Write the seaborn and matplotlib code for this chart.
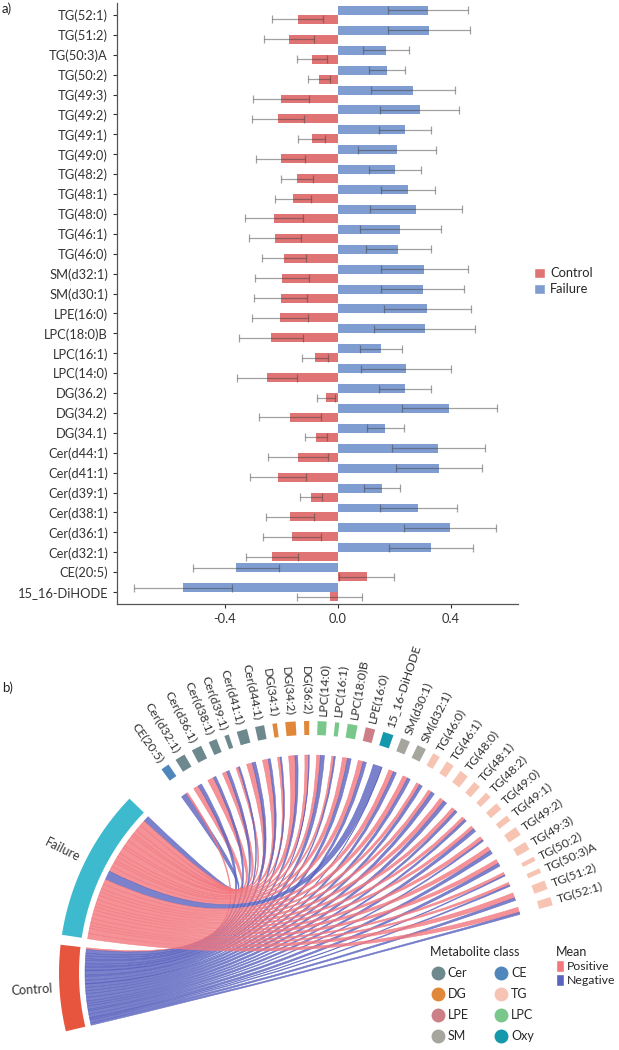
import numpy as np
import pandas as pd
import matplotlib
matplotlib.use("Agg")
import matplotlib.pyplot as plt
import seaborn as sns
from matplotlib.path import Path
from matplotlib.patches import PathPatch, Polygon, Patch
from matplotlib.lines import Line2D

# ---- data (panel a, top to bottom) ----
metabolites = ['TG(52:1)', 'TG(51:2)', 'TG(50:3)A', 'TG(50:2)', 'TG(49:3)', 'TG(49:2)',
               'TG(49:1)', 'TG(49:0)', 'TG(48:2)', 'TG(48:1)', 'TG(48:0)', 'TG(46:1)',
               'TG(46:0)', 'SM(d32:1)', 'SM(d30:1)', 'LPE(16:0)', 'LPC(18:0)B', 'LPC(16:1)',
               'LPC(14:0)', 'DG(36.2)', 'DG(34.2)', 'DG(34.1)', 'Cer(d44:1)', 'Cer(d41:1)',
               'Cer(d39:1)', 'Cer(d38:1)', 'Cer(d36:1)', 'Cer(d32:1)', 'CE(20:5)', '15_16-DiHODE']
failure_mean = [0.321, 0.323, 0.170, 0.176, 0.266, 0.290, 0.238, 0.210, 0.203, 0.248,
                0.277, 0.222, 0.215, 0.307, 0.301, 0.318, 0.308, 0.153, 0.243, 0.238,
                0.396, 0.169, 0.357, 0.360, 0.156, 0.286, 0.399, 0.332, -0.360, -0.548]
failure_err = [0.142, 0.145, 0.082, 0.064, 0.148, 0.139, 0.093, 0.137, 0.092, 0.096,
               0.163, 0.144, 0.116, 0.153, 0.148, 0.155, 0.178, 0.075, 0.159, 0.092,
               0.169, 0.067, 0.164, 0.152, 0.063, 0.135, 0.163, 0.149, 0.153, 0.173]
control_mean = [-0.142, -0.173, -0.091, -0.067, -0.201, -0.213, -0.093, -0.203, -0.144, -0.159,
                -0.227, -0.222, -0.191, -0.197, -0.203, -0.206, -0.236, -0.081, -0.252, -0.042,
                -0.170, -0.078, -0.141, -0.213, -0.095, -0.169, -0.163, -0.234, 0.102, -0.029]
control_err = [0.091, 0.088, 0.052, 0.038, 0.099, 0.092, 0.049, 0.086, 0.057, 0.064,
               0.103, 0.092, 0.078, 0.096, 0.093, 0.100, 0.113, 0.047, 0.107, 0.033,
               0.109, 0.039, 0.106, 0.100, 0.039, 0.084, 0.102, 0.092, 0.098, 0.114]

# ---- panel b: order around the circle (clockwise) and classes ----
ring_labels = ['CE(20:5)', 'Cer(d32:1)', 'Cer(d36:1)', 'Cer(d38:1)', 'Cer(d39:1)', 'Cer(d41:1)',
               'Cer(d44:1)', 'DG(34:1)', 'DG(34:2)', 'DG(36:2)', 'LPC(14:0)', 'LPC(16:1)',
               'LPC(18:0)B', 'LPE(16:0)', '15_16-DiHODE', 'SM(d30:1)', 'SM(d32:1)', 'TG(46:0)',
               'TG(46:1)', 'TG(48:0)', 'TG(48:1)', 'TG(48:2)', 'TG(49:0)', 'TG(49:1)', 'TG(49:2)',
               'TG(49:3)', 'TG(50:2)', 'TG(50:3)A', 'TG(51:2)', 'TG(52:1)']
ring_class = ['CE', 'Cer', 'Cer', 'Cer', 'Cer', 'Cer', 'Cer', 'DG', 'DG', 'DG', 'LPC', 'LPC',
              'LPC', 'LPE', 'Oxy', 'SM', 'SM', 'TG', 'TG', 'TG', 'TG', 'TG', 'TG', 'TG', 'TG',
              'TG', 'TG', 'TG', 'TG', 'TG']
class_order = ['Cer', 'DG', 'LPE', 'SM', 'CE', 'TG', 'LPC', 'Oxy']
class_colors = {'Cer': '#6E898D', 'CE': '#4F86BC', 'DG': '#E0873A', 'TG': '#F7C4B4',
                'LPE': '#CD7F87', 'LPC': '#79C78A', 'SM': '#A6A69F', 'Oxy': '#1598AC'}

red_bar, blue_bar = '#E07474', '#7F9DD1'
pos_col, neg_col = '#F2777E', '#5A63BF'
fail_col, ctrl_col = '#3DBACD', '#E8553E'

sns.set_theme(style='ticks')
plt.rcParams['font.family'] = ['Lato', 'DejaVu Sans']
plt.rcParams['axes.unicode_minus'] = False

fig = plt.figure(figsize=(6.19, 10.5), dpi=100)

# ================= panel a =================
ax = fig.add_axes([117 / 619, 1 - 604 / 1050, (518 - 117) / 619, (604 - 3) / 1050])
n = len(metabolites)
df = pd.DataFrame({'metabolite': metabolites * 2,
                   'group': ['Failure'] * n + ['Control'] * n,
                   'mean': failure_mean + control_mean,
                   'err': failure_err + control_err})
sns.barplot(data=df, x='mean', y='metabolite', hue='group', order=metabolites,
            hue_order=['Failure', 'Control'], palette={'Failure': blue_bar, 'Control': red_bar},
            orient='h', width=0.9, errorbar=None, saturation=1, linewidth=0,
            legend=False, ax=ax)

for cont, grp in zip(ax.containers, ['Failure', 'Control']):
    sub = df[df.group == grp]
    ys = [b.get_y() + b.get_height() / 2 for b in cont]
    ax.errorbar(sub['mean'].values, ys, xerr=sub['err'].values, fmt='none',
                ecolor='#444444', elinewidth=0.9, capsize=3.2, capthick=0.9, alpha=0.5)

ax.set_xlim(-0.783, 0.639)
ax.set_ylim(n - 0.4, -0.6)
ax.set_xticks([-0.4, 0.0, 0.4])
ax.set_xticklabels(['-0.4', '0.0', '0.4'])
ax.set_xlabel('')
ax.set_ylabel('')
ax.tick_params(axis='both', labelsize=9.3, colors='#333333', length=3, width=0.8)
for s in ['top', 'right']:
    ax.spines[s].set_visible(False)
for s in ['left', 'bottom']:
    ax.spines[s].set_color('#555555')
    ax.spines[s].set_linewidth(0.9)

leg_handles = [Patch(facecolor=red_bar, label='Control'), Patch(facecolor=blue_bar, label='Failure')]
fig.legend(handles=leg_handles, loc='upper left', bbox_to_anchor=(528 / 619, 1 - 261 / 1050),
           frameon=False, fontsize=9.3, handlelength=0.8, handleheight=0.8, handletextpad=0.4,
           labelspacing=0.3, borderpad=0)

fig.text(2 / 619, 1 - 9 / 1050, 'a)', fontsize=9.5, va='center', ha='left', color='#222222')
fig.text(2 / 619, 1 - 688 / 1050, 'b)', fontsize=9.5, va='center', ha='left', color='#222222')

# ================= panel b (chord diagram) =================
H = 378
ax2 = fig.add_axes([0, 0, 1, H / 1050])
ax2.set_xlim(0, 619)
ax2.set_ylim(0, H)
ax2.set_aspect('equal')
ax2.axis('off')

cx, cy = 310, 1050 - 973
scale = 4.2           # degrees per unit of |mean|
r_blk_in, r_blk_out = 238, 252
r_grp_in, r_grp_out = 231, 251
r_chord_m, r_chord_g = 218, 225
r_lab = 258


def arc(r, a1, a2, k=24):
    t = np.deg2rad(np.linspace(a1, a2, k))
    return np.column_stack([cx + r * np.cos(t), cy + r * np.sin(t)])


def band(a1, a2, r0, r1, color):
    pts = np.vstack([arc(r1, a1, a2), arc(r0, a2, a1)])
    ax2.add_patch(Polygon(pts, closed=True, facecolor=color, edgecolor='none', zorder=3))


def ribbon(m1, m2, g1, g2, color):
    A = arc(r_chord_m, m1, m2)
    B = arc(r_chord_g, g1, g2)
    verts = list(A) + [(cx, cy), tuple(B[0])] + [tuple(p) for p in B[1:]] + [(cx, cy), tuple(A[0]), tuple(A[0])]
    codes = ([Path.MOVETO] + [Path.LINETO] * (len(A) - 1) + [Path.CURVE3, Path.CURVE3]
             + [Path.LINETO] * (len(B) - 1) + [Path.CURVE3, Path.CURVE3, Path.CLOSEPOLY])
    ax2.add_patch(PathPatch(Path(verts, codes), facecolor=color, edgecolor=color,
                            lw=0.4, alpha=0.8, zorder=2))


lookup = {m.replace('.', ':'): i for i, m in enumerate(metabolites)}
f_vals = [failure_mean[lookup[l]] for l in ring_labels]
c_vals = [control_mean[lookup[l]] for l in ring_labels]

tot_f = sum(abs(v) for v in f_vals)
tot_c = sum(abs(v) for v in c_vals)
f_start = 136.0
c_start = f_start + tot_f * scale + 2.3
band(f_start, f_start + tot_f * scale, r_grp_in, r_grp_out, fail_col)
band(c_start, c_start + tot_c * scale, r_grp_in, r_grp_out, ctrl_col)

ring_hi, ring_lo = 126.1, 15.6
sizes = [(abs(f) + abs(c)) * scale for f, c in zip(f_vals, c_vals)]
gap = (ring_hi - ring_lo - sum(sizes)) / (len(sizes) - 1)

hi = ring_hi
fpos, cpos = f_start, c_start
links = []
for lab, cl, f, c, sz in zip(ring_labels, ring_class, f_vals, c_vals, sizes):
    lo = hi - sz
    band(lo, hi, r_blk_in, r_blk_out, class_colors[cl])
    wf, wc = abs(f) * scale, abs(c) * scale
    links.append((hi - wf, hi, fpos, fpos + wf, pos_col if f > 0 else neg_col))
    links.append((lo, lo + wc, cpos, cpos + wc, pos_col if c > 0 else neg_col))
    fpos += wf
    cpos += wc
    mid = (lo + hi) / 2
    x, y = cx + r_lab * np.cos(np.deg2rad(mid)), cy + r_lab * np.sin(np.deg2rad(mid))
    if mid <= 90:
        ax2.text(x, y, lab, rotation=mid, ha='left', va='center', rotation_mode='anchor',
                 fontsize=8.8, color='#333333')
    else:
        ax2.text(x, y, lab, rotation=mid - 180, ha='right', va='center', rotation_mode='anchor',
                 fontsize=8.8, color='#333333')
    hi = lo - gap

for m1, m2, g1, g2, col in links:
    ribbon(m1, m2, g1, g2, col)

for name, a1, a2 in [('Failure', f_start, f_start + tot_f * scale), ('Control', c_start, c_start + tot_c * scale)]:
    mid = (a1 + a2) / 2
    x, y = cx + r_lab * np.cos(np.deg2rad(mid)), cy + r_lab * np.sin(np.deg2rad(mid))
    ax2.text(x, y, name, rotation=mid - 180, ha='right', va='center', rotation_mode='anchor',
             fontsize=9, color='#333333')

# legends
cls_handles = [Line2D([], [], ls='', marker='o', markersize=9, markerfacecolor=class_colors[k],
                      markeredgecolor=class_colors[k], label=k) for k in class_order]
leg1 = ax2.legend(handles=cls_handles, title='Metabolite class', ncol=2, loc='upper left',
                  bbox_to_anchor=(424, 1050 - 940), bbox_transform=ax2.transData, frameon=False,
                  fontsize=9, title_fontsize=9, alignment='left', handletextpad=0.2,
                  labelspacing=0.72, columnspacing=2.0, borderpad=0, handlelength=1.2)
ax2.add_artist(leg1)
mean_handles = [Patch(facecolor=pos_col, label='Positive'), Patch(facecolor=neg_col, label='Negative')]
ax2.legend(handles=mean_handles, title='Mean', loc='upper left',
           bbox_to_anchor=(550, 1050 - 940), bbox_transform=ax2.transData, frameon=False,
           fontsize=8.8, title_fontsize=9, alignment='left', handletextpad=0.25,
           labelspacing=0.12, borderpad=0, handlelength=0.65, handleheight=1.2)

fig.savefig('out.png', dpi=100)
